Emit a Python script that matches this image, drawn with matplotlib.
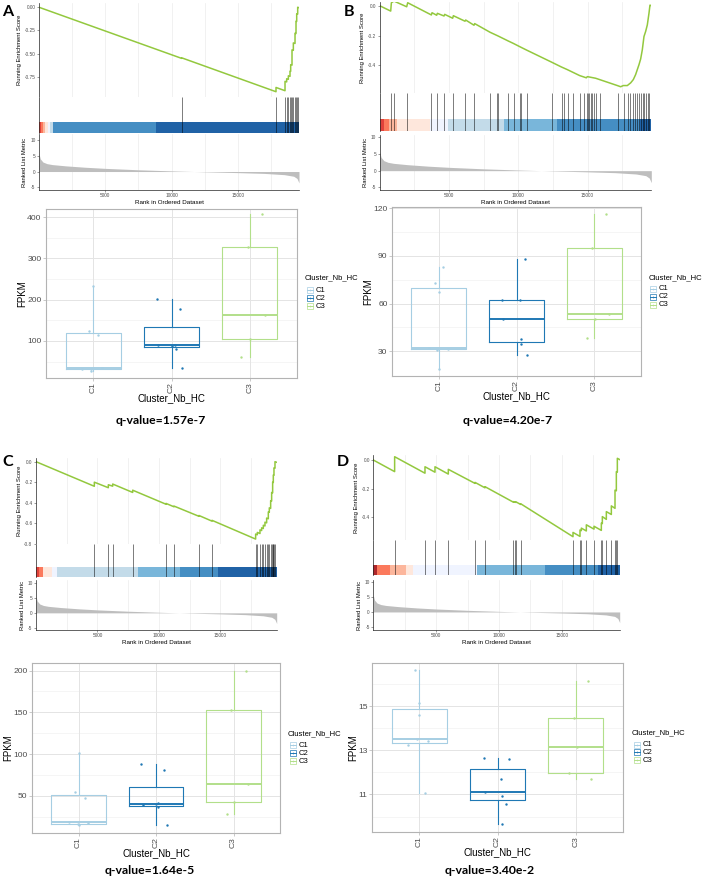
import matplotlib
matplotlib.use("Agg")
import matplotlib.pyplot as plt
from matplotlib.patches import Rectangle
import numpy as np

plt.rcParams['font.family'] = ['Liberation Sans', 'DejaVu Sans']
plt.rcParams['axes.unicode_minus'] = False

W, H = 708, 880
N_GENES = 19600

# ranked list metric (same ranking in all four panels)
metric_rank = [0, 100, 300, 600, 1000, 2000, 3500, 5000, 7500, 10000, 12500,
               15000, 17000, 18500, 19200, 19450, 19600]
metric_val = [5.6, 4.0, 3.0, 2.5, 2.2, 1.8, 1.35, 1.0, 0.55, 0.2, -0.1,
              -0.35, -0.6, -1.0, -1.5, -2.2, -3.6]

bar_pal = ["#08519C", "#3182BD", "#6BAED6", "#BDD7E7", "#EFF3FF",
           "#FEE5D9", "#FCAE91", "#FB6A4A", "#DE2D26", "#A50F15"]
box_cols = ["#A6CEE3", "#1F78B4", "#B2DF8A"]
groups = ["C1", "C2", "C3"]

# ---- A ----
es_rank_a = [0, 10756, 10756, 17867, 17867, 18546, 18546, 18671, 18671, 18797, 18797,
             18922, 18922, 18973, 18973, 19073, 19073, 19174, 19174, 19300, 19300,
             19375, 19375, 19426, 19426, 19501, 19501, 19600]
es_val_a = [0, -0.552, -0.546, -0.912, -0.866, -0.901, -0.80, -0.806, -0.772, -0.778, -0.74,
            -0.746, -0.69, -0.692, -0.62, -0.625, -0.46, -0.465, -0.385, -0.391, -0.28,
            -0.284, -0.15, -0.153, -0.07, -0.074, 0.0, -0.005]
hits_a = [10756, 17867, 18546, 18671, 18797, 18922, 18973, 19073, 19174, 19300,
          19375, 19426, 19501]
bar_edges_a = [0, 170, 330, 480, 650, 800, 1050, 8800, N_GENES]
bar_idx_a = [8, 7, 6, 5, 4, 3, 1, 0]
fpkm_a = [[233, 125, 114, 34, 33, 32, 26],
          [201, 177, 91, 90, 88, 80, 35],
          [407, 327, 162, 104, 60]]
jit_a = [[0.0, -0.05, 0.06, 0.11, -0.14, -0.03, -0.02],
         [-0.18, 0.11, -0.17, 0.05, 0.0, 0.06, 0.14],
         [0.15, -0.03, 0.19, 0.0, -0.11]]

# ---- B ----
es_rank_b = [0, 794, 842, 1034, 1948, 2020, 3728, 3776, 4113, 4161, 4642, 4690, 5267, 5315,
             6157, 6205, 6806, 6854, 7960, 8538, 9259, 9644, 10173, 10606, 12386, 13107,
             13540, 14430, 14911, 14983, 15585, 15873, 17148, 17388, 17580, 17869, 18110,
             18302, 18470, 18590, 18711, 18831, 18951, 19071, 19191, 19312, 19432, 19504, 19600]
es_val_b = [0, -0.036, 0.020, 0.031, -0.007, 0.020, -0.062, -0.047, -0.064, -0.051, -0.069,
            -0.058, -0.084, -0.067, -0.104, -0.096, -0.131, -0.120, -0.178, -0.203, -0.236,
            -0.253, -0.278, -0.298, -0.378, -0.411, -0.429, -0.469, -0.484, -0.476, -0.487,
            -0.496, -0.536, -0.544, -0.536, -0.536, -0.518, -0.496, -0.462, -0.429, -0.396,
            -0.358, -0.296, -0.207, -0.173, -0.129, -0.051, 0.004, 0.0]
hits_b = [795, 1035, 1999, 3733, 4118, 4648, 5274, 6164, 6815, 7970, 8452, 8550, 9270,
          9656, 10090, 10186, 10620, 12400, 13125, 13316, 13557, 13918, 14448, 14713,
          14930, 15000, 15122, 15243, 15339, 15483, 15604, 15893, 17170, 17603, 17892,
          18084, 18253, 18421, 18566, 18735, 18855, 18975, 19095, 19216, 19336, 19456]
bar_edges_b = [0, 310, 670, 1275, 3630, 4930, 8970, 12770, 18780, N_GENES]
bar_idx_b = [8, 7, 6, 5, 4, 3, 2, 1, 0]
fpkm_b = [[83, 72.6, 67, 32, 31, 31.5, 19],
          [88, 62.5, 62.4, 50, 37.5, 34.4, 27.5],
          [116, 94.6, 53.5, 50, 38]]
jit_b = [[0.06, -0.05, 0.0, -0.13, -0.02, 0.12, 0.0],
         [0.11, -0.18, 0.05, -0.17, 0.06, 0.06, 0.14],
         [0.15, -0.03, 0.19, 0.01, -0.10]]

# ---- C ----
es_rank_c = [0, 4750, 4750, 5890, 5890, 6243, 6243, 7871, 7871, 10585, 10585, 11236, 11236,
             13271, 13271, 14330, 14330, 17885, 17885, 18021, 18021, 18238, 18238, 18374,
             18374, 18510, 18510, 18645, 18645, 18781, 18781, 18917, 18917, 18998, 18998,
             19107, 19107, 19188, 19188, 19270, 19270, 19324, 19324, 19378, 19378, 19460,
             19460, 19600]
es_val_c = [0, -0.240, -0.200, -0.254, -0.225, -0.239, -0.218, -0.300, -0.278, -0.415, -0.407,
            -0.440, -0.433, -0.533, -0.525, -0.580, -0.572, -0.755, -0.706, -0.713, -0.690,
            -0.701, -0.665, -0.672, -0.645, -0.652, -0.620, -0.627, -0.590, -0.597, -0.550,
            -0.557, -0.490, -0.494, -0.450, -0.456, -0.380, -0.384, -0.300, -0.304, -0.200,
            -0.203, -0.130, -0.133, -0.060, -0.064, 0.0, -0.006]
hits_c = [4750, 5890, 6243, 7871, 10585, 11236, 13271, 14330, 17885, 18021, 18238, 18374,
          18510, 18645, 18781, 18917, 18998, 19107, 19188, 19270, 19324, 19378, 19460]
bar_edges_c = [0, 270, 540, 1275, 1680, 8330, 11725, 14845, N_GENES]
bar_idx_c = [8, 7, 5, 4, 3, 2, 1, 0]
fpkm_c = [[101.6, 54.8, 47.6, 18.4, 17.4, 16, 15],
          [88.4, 81.2, 40.9, 40, 38.8, 36.8, 14.8],
          [200, 152.8, 64, 42.8, 28.9]]
jit_c = [[0.0, -0.04, 0.08, -0.12, 0.12, -0.01, 0.01],
         [-0.19, 0.10, 0.03, 0.0, -0.17, 0.03, 0.14],
         [0.16, -0.03, 0.19, 0.0, -0.09]]

# ---- D ----
es_rank_d = [0, 1697, 1697, 4111, 4111, 4906, 4906, 5967, 5967, 8089, 8089, 8884, 8884,
             11138, 11138, 11244, 11244, 11350, 11350, 11722, 11722, 15885, 15885, 16442,
             16442, 16548, 16548, 16946, 16946, 17556, 17556, 18139, 18139, 18219, 18219,
             18537, 18537, 18935, 18935, 19227, 19227, 19333, 19333, 19412, 19412, 19600]
es_val_d = [0, -0.081, 0.023, -0.092, -0.047, -0.085, -0.047, -0.098, -0.065, -0.163, -0.156,
            -0.194, -0.186, -0.294, -0.290, -0.295, -0.291, -0.296, -0.292, -0.310, -0.305,
            -0.535, -0.505, -0.533, -0.488, -0.493, -0.475, -0.495, -0.452, -0.482, -0.462,
            -0.491, -0.440, -0.444, -0.395, -0.414, -0.360, -0.380, -0.320, -0.337, -0.210,
            -0.215, -0.081, -0.085, 0.012, 0.003]
hits_d = [1697, 4111, 4906, 5967, 8089, 8884, 11138, 11244, 11350, 11722, 15885, 16442,
          16548, 16946, 17556, 18139, 18219, 18537, 18935, 19227, 19333, 19412]
bar_edges_d = [0, 265, 1326, 2572, 3180, 8274, 13630, 17900, N_GENES]
bar_idx_d = [9, 7, 6, 5, 4, 2, 1, 0]
fpkm_d = [[16.62, 15.15, 14.59, 13.53, 13.43, 13.26, 11.07],
          [12.67, 12.6, 11.69, 11.12, 10.94, 10.56, 9.67],
          [16.14, 14.48, 13.15, 11.95, 11.68]]
jit_d = [[-0.05, 0.0, 0.0, -0.03, 0.12, -0.14, 0.07],
         [-0.17, 0.15, 0.05, -0.16, 0.06, 0.11, 0.06],
         [0.16, -0.03, 0.01, -0.09, 0.19]]

q_values = ["q-value=1.57e-7", "q-value=4.20e-7", "q-value=1.64e-5", "q-value=3.40e-2"]

fig = plt.figure(figsize=(W / 100, H / 100), dpi=100)


def add_ax(x0, y0, x1, y1):
    return fig.add_axes([x0 / W, 1 - y1 / H, (x1 - x0) / W, (y1 - y0) / H])


def vgrid(ax):
    for g in range(2500, N_GENES, 2500):
        ax.axvline(g, color='#ebebeb', lw=0.5, zorder=0)


def gsea(x0, x1, es_box, hit_box, rank_box, es_x, es_y, es_lim, es_ticks, es_labels,
         hits, edges, idx, rank_lim):
    ax = add_ax(x0, es_box[0], x1, es_box[1])
    vgrid(ax)
    ax.plot(es_x, es_y, color='#93C83E', lw=1.1)
    ax.set_xlim(0, N_GENES)
    ax.set_ylim(es_lim)
    ax.set_yticks(es_ticks, es_labels)
    ax.set_xticks([])
    for s in ['top', 'right', 'bottom']:
        ax.spines[s].set_visible(False)
    ax.spines['left'].set_linewidth(0.5)
    ax.spines['left'].set_color('#222222')
    ax.tick_params(axis='y', labelsize=3.4, length=1.5, width=0.4, pad=1, colors='#4d4d4d')
    ax.set_ylabel('Running Enrichment Score', fontsize=4.2, labelpad=2)

    hx = add_ax(x0, hit_box[0], x1, hit_box[1])
    hx.vlines(hits, 0, 1, color='black', lw=0.6, alpha=0.6)
    for a, b, i in zip(edges[:-1], edges[1:], idx):
        hx.axvspan(a, b, 0, 0.3, color=bar_pal[i], alpha=0.9, lw=0)
    hx.set_xlim(0, N_GENES)
    hx.set_ylim(0, 1)
    hx.set_xticks([])
    hx.set_yticks([])
    for s in ['top', 'right', 'bottom']:
        hx.spines[s].set_visible(False)
    hx.spines['left'].set_linewidth(0.5)
    hx.spines['left'].set_color('#222222')

    rx = add_ax(x0, rank_box[0], x1, rank_box[1])
    vgrid(rx)
    rx.fill_between(metric_rank, 0, metric_val, color='#bebebe', lw=0)
    rx.set_xlim(0, N_GENES)
    rx.set_ylim(rank_lim)
    rx.set_yticks([-5, 0, 5, 10])
    rx.set_xticks([5000, 10000, 15000])
    for s in ['top', 'right']:
        rx.spines[s].set_visible(False)
    for s in ['left', 'bottom']:
        rx.spines[s].set_linewidth(0.5)
        rx.spines[s].set_color('#222222')
    rx.tick_params(labelsize=3.4, length=1.5, width=0.4, pad=1, colors='#4d4d4d')
    rx.set_xlabel('Rank in Ordered Dataset', fontsize=4.5, labelpad=1)
    rx.set_ylabel('Ranked List Metric', fontsize=4.2, labelpad=2)


def boxes(x0, y0, x1, y1, data, jit, ylim, major, minor):
    ax = add_ax(x0, y0, x1, y1)
    for v in minor:
        ax.axhline(v, color='#f2f2f2', lw=0.5, zorder=0)
    for v in major:
        ax.axhline(v, color='#e4e4e4', lw=0.7, zorder=0)
    for p in (1, 2, 3):
        ax.axvline(p, color='#e4e4e4', lw=0.7, zorder=0)
    for i, (vals, jj, col) in enumerate(zip(data, jit, box_cols)):
        ax.boxplot(vals, positions=[i + 1], widths=0.7, showcaps=False, showfliers=False,
                   boxprops=dict(color=col, lw=0.8), whiskerprops=dict(color=col, lw=0.8),
                   medianprops=dict(color=col, lw=1.4), manage_ticks=False)
        ax.scatter(np.array(jj) + i + 1, vals, s=3, color=col, lw=0, zorder=3)
    ax.set_xlim(0.4, 3.6)
    ax.set_ylim(ylim)
    ax.set_xticks([1, 2, 3], groups, rotation=90)
    ax.set_yticks(major)
    for s in ax.spines.values():
        s.set_color('#b3b3b3')
        s.set_linewidth(0.8)
    ax.tick_params(labelsize=6.1, length=2, width=0.5, pad=1.2, color='#b3b3b3',
                   labelcolor='#4d4d4d')
    ax.set_xlabel('Cluster_Nb_HC', fontsize=7, labelpad=0)
    ax.set_ylabel('FPKM', fontsize=7, labelpad=0)


gsea(39, 299, (3, 97), (97, 133), (134, 190), es_rank_a, es_val_a, (-0.969, 0.046),
     [0, -0.25, -0.5, -0.75], ['0.00', '-0.25', '-0.50', '-0.75'],
     hits_a, bar_edges_a, bar_idx_a, (-5.86, 11.9))
gsea(379.7, 651.3, (1.7, 93.3), (93.3, 130.7), (135, 190), es_rank_b, es_val_b, (-0.588, 0.027),
     [0, -0.2, -0.4], ['0.0', '-0.2', '-0.4'],
     hits_b, bar_edges_b, bar_idx_b, (-5.8, 10.7))
gsea(36, 276.7, (458.3, 544), (544, 576.7), (580, 630), es_rank_c, es_val_c, (-0.803, 0.033),
     [0, -0.2, -0.4, -0.6, -0.8], ['0.0', '-0.2', '-0.4', '-0.6', '-0.8'],
     hits_c, bar_edges_c, bar_idx_c, (-5.8, 11.1))
gsea(373.3, 619.7, (455, 540), (540, 575), (580, 630), es_rank_d, es_val_d, (-0.558, 0.035),
     [0, -0.2, -0.4], ['0.0', '-0.2', '-0.4'],
     hits_d, bar_edges_d, bar_idx_d, (-6.1, 10.8))

boxes(46, 209, 297, 378, fpkm_a, jit_a, (10, 420), [100, 200, 300, 400], [50, 150, 250, 350])
boxes(392, 207, 641, 376, fpkm_b, jit_b, (14.4, 120.7), [30, 60, 90, 120], [45, 75, 105])
boxes(32, 663, 280, 833, fpkm_c, jit_c, (5.6, 209), [50, 100, 150, 200], [25, 75, 125, 175])
boxes(372, 663, 623, 832, fpkm_d, jit_d, (9.3, 16.95), [11, 13, 15], [10, 12, 14, 16])

# overlay in pixel coordinates for legends, letters and q-values
ov = fig.add_axes([0, 0, 1, 1], zorder=10)
ov.set_xlim(0, W)
ov.set_ylim(H, 0)
ov.axis('off')
ov.patch.set_alpha(0)


def legend(tx, ty, kx, lx, ys):
    ov.text(tx, ty, 'Cluster_Nb_HC', fontsize=5.5, va='center', ha='left')
    for y, lab, col in zip(ys, groups, box_cols):
        ov.add_patch(Rectangle((kx - 3, y - 3), 6, 6, facecolor='white', edgecolor=col, lw=0.5))
        ov.plot([kx - 3, kx + 3], [y, y], color=col, lw=0.7)
        ov.plot([kx], [y], 'o', color=col, ms=1.2, mew=0)
        ov.text(lx, y, lab, fontsize=5.5, va='center', ha='left')


legend(305, 278, 310, 316, [290, 298, 306])
legend(649, 278, 653, 659, [289, 297, 305])
legend(288, 734, 293, 299, [745.5, 753.3, 761.5])
legend(632, 733, 637, 643, [745, 752.5, 760])

for (x, y), q in zip([(161, 421), (508, 421), (150, 871), (490, 871)], q_values):
    ov.text(x, y, q, fontsize=8.8, fontweight='bold', family='Lato', ha='center', va='center')

for (x, y), lab in zip([(8, 12), (349, 12), (8, 462), (343, 462)], 'ABCD'):
    ov.text(x, y, lab, fontsize=11.5, fontweight='bold', family='Lato', ha='center', va='center')

fig.savefig('out.png', dpi=100)
